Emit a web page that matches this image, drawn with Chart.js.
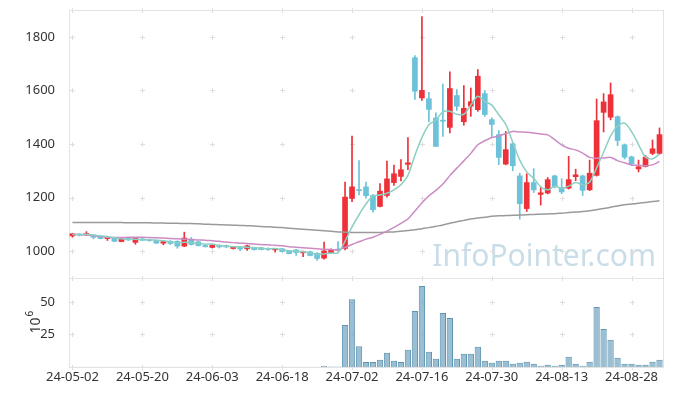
<!DOCTYPE html>
<html>
<head>
<meta charset="utf-8">
<script src="https://cdn.jsdelivr.net/npm/chart.js@4.4.1/dist/chart.umd.min.js"></script>
<style>
  html,body{margin:0;padding:0;background:#fff;}
  canvas{display:block;}
</style>
</head>
<body>
<canvas id="c" width="673" height="396"></canvas>
<script>
// trading days, 24-05-02 .. 24-09-03
const dates = ['24-05-02','24-05-03','24-05-07','24-05-08','24-05-09','24-05-10','24-05-13','24-05-14','24-05-16','24-05-17',
 '24-05-20','24-05-21','24-05-22','24-05-23','24-05-24','24-05-27','24-05-28','24-05-29','24-05-30','24-05-31',
 '24-06-03','24-06-04','24-06-05','24-06-07','24-06-10','24-06-11','24-06-12','24-06-13','24-06-14','24-06-17',
 '24-06-18','24-06-19','24-06-20','24-06-21','24-06-24','24-06-25','24-06-26','24-06-27','24-06-28','24-07-01',
 '24-07-02','24-07-03','24-07-04','24-07-05','24-07-08','24-07-09','24-07-10','24-07-11','24-07-12','24-07-15',
 '24-07-16','24-07-17','24-07-18','24-07-19','24-07-22','24-07-23','24-07-24','24-07-25','24-07-26','24-07-29',
 '24-07-30','24-07-31','24-08-01','24-08-02','24-08-05','24-08-06','24-08-07','24-08-08','24-08-09','24-08-12',
 '24-08-13','24-08-14','24-08-16','24-08-19','24-08-20','24-08-21','24-08-22','24-08-23','24-08-26','24-08-27',
 '24-08-28','24-08-29','24-08-30','24-09-02','24-09-03'];

const open = [1057,1062,1062,1060,1053,1047,1050,1036,1048,1033,
 1046,1043,1041,1030,1037,1037,1019,1045,1035,1021,
 1014,1022,1021,1010,1015,1009,1014,1013,1010,1005,
 1009,1001,1005,994,998,992,974,995,1007,1010,
 1197,1230,1240,1208,1167,1208,1256,1279,1324,1722,
 1572,1569,1497,1489,1462,1581,1483,1541,1528,1588,
 1491,1435,1325,1401,1281,1159,1256,1212,1217,1281,
 1238,1235,1278,1281,1229,1283,1518,1500,1502,1397,
 1352,1307,1316,1365,1365];
const high = [1067,1065,1073,1061,1054,1052,1052,1047,1050,1051,
 1048,1045,1043,1037,1040,1039,1071,1051,1037,1024,
 1024,1025,1023,1018,1017,1023,1015,1015,1013,1011,
 1011,1003,1007,1000,1000,995,1034,1009,1036,1258,
 1430,1338,1258,1212,1252,1336,1321,1342,1424,1730,
 1875,1593,1516,1624,1669,1603,1618,1609,1678,1600,
 1498,1450,1447,1405,1291,1289,1308,1239,1275,1284,
 1270,1354,1306,1284,1340,1568,1588,1628,1505,1400,
 1355,1340,1357,1415,1460];
const low = [1052,1057,1058,1046,1046,1040,1035,1035,1040,1026,
 1039,1037,1029,1024,1025,1011,1017,1023,1019,1015,
 1012,1012,1013,1008,1002,1003,1004,1005,1003,996,
 997,990,984,980,982,966,970,993,1000,1005,
 1185,1210,1198,1146,1165,1202,1245,1262,1304,1566,
 1563,1482,1390,1428,1441,1525,1470,1503,1522,1503,
 1428,1323,1322,1300,1120,1148,1219,1172,1214,1236,
 1215,1232,1263,1208,1226,1280,1445,1490,1394,1344,
 1319,1296,1314,1360,1362];
const close = [1065,1060,1065,1052,1047,1050,1037,1046,1042,1049,
 1041,1039,1030,1036,1029,1019,1049,1025,1021,1017,
 1022,1016,1016,1016,1008,1020,1006,1006,1007,1009,
 999,991,995,998,984,973,1001,1007,1004,1202,
 1240,1226,1207,1155,1224,1270,1289,1304,1330,1597,
 1600,1529,1391,1485,1607,1541,1533,1558,1653,1510,
 1473,1350,1379,1319,1177,1256,1229,1218,1267,1241,
 1221,1267,1285,1227,1291,1487,1557,1584,1413,1351,
 1326,1315,1351,1382,1435];

// moving averages
const ma5 = [1062,1062,1063,1060,1058,1055,1050,1046,1044,1045,
 1043,1043,1040,1039,1035,1031,1033,1032,1029,1026,
 1027,1020,1018,1017,1016,1015,1013,1011,1009,1010,
 1005,1002,1000,998,993,988,990,993,994,1037,
 1091,1136,1176,1206,1210,1216,1229,1248,1283,1358,
 1424,1472,1489,1520,1522,1511,1511,1545,1578,1559,
 1545,1509,1473,1406,1340,1296,1272,1240,1229,1242,
 1235,1243,1256,1248,1258,1311,1369,1429,1466,1478,
 1446,1398,1351,1345,1362];
const ma20 = [1063,1062,1060,1058,1055,1052,1051,1051,1052,1052,
 1052,1051,1050,1049,1047,1046,1045,1044,1042,1041,
 1039,1037,1034,1032,1030,1029,1027,1025,1024,1022,
 1020,1017,1015,1013,1011,1009,1007,1006,1005,1014,
 1025,1035,1045,1052,1063,1075,1089,1104,1120,1150,
 1180,1207,1227,1251,1282,1310,1337,1365,1397,1412,
 1424,1430,1439,1447,1445,1444,1441,1437,1434,1416,
 1397,1384,1378,1366,1350,1347,1348,1350,1338,1330,
 1322,1321,1319,1322,1335];
const ma60 = [1107,1107,1107,1107,1107,1107,1107,1107,1106,1106,
 1106,1106,1105,1105,1104,1104,1103,1103,1102,1101,
 1100,1099,1098,1097,1096,1095,1094,1092,1091,1089,
 1088,1086,1084,1082,1080,1078,1076,1074,1072,1071,
 1070,1070,1070,1070,1070,1071,1072,1074,1077,1080,
 1084,1088,1093,1098,1104,1110,1115,1120,1124,1127,
 1130,1132,1133,1134,1135,1136,1137,1138,1139,1140,
 1142,1144,1146,1148,1151,1155,1159,1164,1169,1173,
 1176,1179,1182,1185,1188];

// volume, 10^6 shares
const volume = [0.2,0.2,0.2,0.2,0.2,0.2,0.2,0.2,0.2,0.2,
 0.2,0.2,0.2,0.2,0.2,0.2,0.2,0.2,0.2,0.2,
 0.2,0.2,0.2,0.2,0.2,0.2,0.2,0.2,0.2,0.2,
 0.2,0.2,0.2,0.2,0.2,0.2,1.0,0.3,0.3,32.3,
 52.0,16.0,3.8,3.8,5.6,10.9,4.8,3.8,13.2,43.0,
 62.2,11.7,6.3,41.5,37.7,6.3,10.2,10.2,15.5,4.8,
 3.3,4.8,4.8,2.5,3.3,4.1,2.5,1.0,1.8,1.0,
 1.8,7.9,2.5,1.0,4.1,46.1,29.3,20.9,7.1,2.5,
 2.5,1.8,1.8,4.1,5.6];

const priceTicks = [1000,1200,1400,1600,1800];
const volTicks = [25,50];

const UP='#ee3138', DOWN='#6cc2d8';
const candleCol = close.map((c,i)=> c>=open[i] ? UP : DOWN);
const FONT = '"Noto Sans", sans-serif';

// grid crosses, panel frames, watermark, 10^6 label
const decor = {
  id:'decor',
  beforeDatasetsDraw(chart){
    const {ctx, chartArea:a, scales} = chart;
    const x = scales.x, yp = scales.y, yv = scales.yv;
    ctx.save();
    ctx.font = '30px '+FONT;
    ctx.fillStyle = 'rgba(165,198,216,0.6)';
    ctx.textAlign = 'right'; ctx.textBaseline = 'alphabetic';
    ctx.fillText('InfoPointer.com', a.right-7, yp.bottom-12);

    ctx.strokeStyle = '#dedede'; ctx.lineWidth = 1;
    const cross = (px,py)=>{
      ctx.beginPath();
      ctx.moveTo(px-2.5,py); ctx.lineTo(px+2.5,py);
      ctx.moveTo(px,py-2.5); ctx.lineTo(px,py+2.5);
      ctx.stroke();
    };
    for(let i=0;i<dates.length;i+=10){
      const px = Math.round(x.getPixelForValue(i))+0.5;
      priceTicks.forEach(v=>cross(px, Math.round(yp.getPixelForValue(v))+0.5));
      volTicks.forEach(v=>cross(px, Math.round(yv.getPixelForValue(v))+0.5));
      [yp.top, yp.bottom, yv.bottom].forEach(py=>cross(px, Math.round(py)+0.5));
    }
    ctx.strokeStyle = '#e3e3e3';
    [yp, yv].forEach(s=>{
      ctx.strokeRect(Math.round(a.left)+0.5, Math.round(s.top)+0.5,
        Math.round(a.right-a.left), Math.round(s.bottom-s.top));
    });

    // axis unit for the volume panel
    ctx.translate(36, (yv.top+yv.bottom)/2);
    ctx.rotate(-Math.PI/2);
    ctx.fillStyle = '#333';
    ctx.textBaseline = 'middle'; ctx.textAlign = 'left';
    ctx.font = '14px '+FONT;
    const w = ctx.measureText('10').width;
    ctx.fillText('10', -w/2-3, 0);
    ctx.font = '10px '+FONT;
    ctx.fillText('6', w/2-2, -6);
    ctx.restore();
  }
};

new Chart(document.getElementById('c'), {
  type:'bar',
  data:{
    labels: dates,
    datasets:[
      {type:'line', label:'MA5', data:ma5, yAxisID:'y', borderColor:'#8ccfc3', borderWidth:1.5, pointRadius:0, tension:0.3, order:0},
      {type:'line', label:'MA20', data:ma20, yAxisID:'y', borderColor:'#cb8cc3', borderWidth:1.5, pointRadius:0, tension:0.3, order:0},
      {type:'line', label:'MA60', data:ma60, yAxisID:'y', borderColor:'#9a9a9a', borderWidth:1.5, pointRadius:0, tension:0.3, order:0},
      {label:'wick', data:dates.map((d,i)=>[low[i],high[i]]), yAxisID:'y', backgroundColor:candleCol,
        barThickness:1, grouped:false, order:2},
      {label:'body', data:dates.map((d,i)=>[open[i],close[i]]), yAxisID:'y', backgroundColor:candleCol,
        barThickness:5, minBarLength:1, grouped:false, order:1},
      {label:'volume', data:volume, yAxisID:'yv', backgroundColor:'rgba(120,170,195,0.75)', borderColor:'#5f95b0',
        borderWidth:1, barPercentage:0.9, categoryPercentage:1, grouped:false, order:3}
    ]
  },
  options:{
    responsive:false, animation:false,
    layout:{padding:{top:10, right:10, left:0, bottom:0}},
    plugins:{legend:{display:false}, tooltip:{enabled:false}},
    scales:{
      x:{
        offset:true, grid:{display:false, drawTicks:false}, border:{display:false},
        ticks:{autoSkip:false, maxRotation:0, minRotation:0, color:'#333', font:{family:FONT, size:13}, padding:2,
          callback:(v,i)=> i%10===0 ? dates[i] : ''},
        afterFit:s=>{ s.height = 29; }
      },
      yv:{
        position:'left', stack:'main', stackWeight:89, min:0, max:68.4,
        grid:{display:false}, border:{display:false},
        ticks:{color:'#333', font:{family:FONT, size:13, lineHeight:0.6}, padding:6, callback:v=>String(v)},
        afterBuildTicks:s=>{ s.ticks = volTicks.map(v=>({value:v})); },
        afterFit:s=>{ s.width = 69; }
      },
      y:{
        position:'left', stack:'main', stackWeight:268, min:900, max:1900,
        grid:{display:false}, border:{display:false},
        ticks:{color:'#333', font:{family:FONT, size:13, lineHeight:0.6}, padding:6, callback:v=>String(v)},
        afterBuildTicks:s=>{ s.ticks = priceTicks.map(v=>({value:v})); },
        afterFit:s=>{ s.width = 69; }
      }
    }
  },
  plugins:[decor]
});
</script>
</body>
</html>
